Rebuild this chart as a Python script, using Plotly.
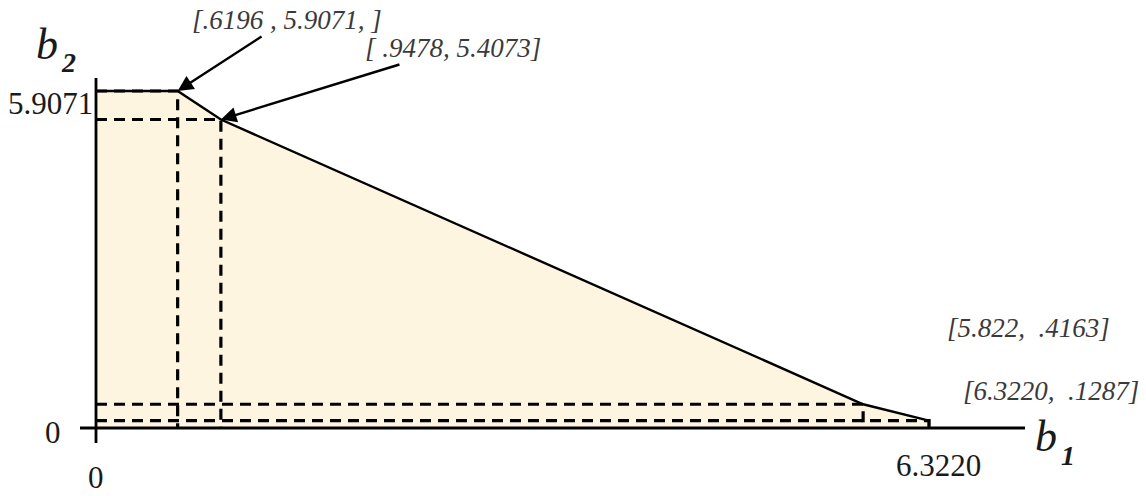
import plotly.graph_objects as go

# Trade-off points on the (b1, b2) frontier
b1_points = [0.6196, 0.9478, 5.822, 6.3220]
b2_points = [5.9071, 5.4073, 0.4163, 0.1287]
point_labels = ["[.6196 , 5.9071, ]", "[ .9478, 5.4073]", "[5.822,  .4163]", "[6.3220,  .1287]"]

# Frontier end values
b1_max = 6.3220
b2_max = 5.9071

W, H = 1146, 496
X0_PX, X1_PX = 96, 929      # pixel positions of b1 = 0 and b1 = b1_max
Y0_PX, Y1_PX = 428, 91      # pixel positions of b2 = 0 and b2 = b2_max
sx = (X1_PX - X0_PX) / b1_max
sy = (Y0_PX - Y1_PX) / b2_max
x_range = [-X0_PX / sx, (W - X0_PX) / sx]
y_range = [-(H - Y0_PX) / sy, Y0_PX / sy]

SERIF = "Liberation Serif, Times New Roman, serif"
FILL = "#FDF5E0"
LABEL_FONT = dict(family=SERIF, size=27, color="#3a3a3a", style="italic")
VALUE_FONT = dict(family=SERIF, size=31, color="#1a1a1a")
TITLE_FONT = dict(family=SERIF, size=44, color="#1a1a1a", style="italic")
SUB_FONT = dict(family=SERIF, size=28, color="#1a1a1a", style="italic", weight="bold")

fig = go.Figure()

# Feasible region bounded by the frontier
curve_x = [0] + b1_points + [b1_max]
curve_y = [b2_max] + b2_points + [0]
fig.add_trace(go.Scatter(
    x=curve_x, y=curve_y, mode="lines", fill="tozeroy", fillcolor=FILL,
    line=dict(color="black", width=2.4),
    hoverinfo="skip", showlegend=False,
))

# Dashed projections of each point onto both axes
for bx, by in zip(b1_points, b2_points):
    fig.add_trace(go.Scatter(
        x=[0, bx, bx], y=[by, by, 0], mode="lines",
        line=dict(color="black", width=3.2, dash="11px,7px"),
        hoverinfo="skip", showlegend=False,
    ))

# Axes crossing at the origin
fig.add_shape(type="line", x0=-16 / sx, x1=(1025 - X0_PX) / sx, y0=0, y1=0,
              line=dict(color="black", width=2.8))
fig.add_shape(type="line", x0=0, x1=0, y0=-15 / sy, y1=(Y0_PX - 78) / sy,
              line=dict(color="black", width=2.8))


def paper(px, py):
    return px / W, 1 - py / H


def add_text(px, py, text, font):
    ppx, ppy = paper(px, py)
    fig.add_annotation(x=ppx, y=ppy, xref="paper", yref="paper", text=text,
                       showarrow=False, xanchor="center", yanchor="middle", font=font)


# Point labels: the first two with arrows to their points
arrow_text_px = [(287, 20), (453, 48)]
for (tx, ty), bx, by, txt in zip(arrow_text_px, b1_points[:2], b2_points[:2], point_labels[:2]):
    px = X0_PX + bx * sx
    py = Y0_PX - by * sy
    fig.add_annotation(
        x=bx, y=by, xref="x", yref="y", text=txt, showarrow=True,
        ax=tx - px, ay=ty - py, axref="pixel", ayref="pixel",
        xanchor="center", yanchor="middle",
        arrowhead=2, arrowsize=1.3, arrowwidth=2.4, arrowcolor="black",
        font=LABEL_FONT, standoff=0,
    )

plain_text_px = [(1028, 328), (1051, 391)]
for (tx, ty), txt in zip(plain_text_px, point_labels[2:]):
    add_text(tx, ty, txt, LABEL_FONT)

# Axis values
fig.add_annotation(x=0, y=0, xref="x", yref="y", text="0", showarrow=False,
                   xshift=-43, yshift=-4, font=VALUE_FONT)
fig.add_annotation(x=0, y=b2_max, xref="x", yref="y", text="5.9071", showarrow=False,
                   xanchor="right", xshift=-1, yshift=-12, font=VALUE_FONT)
fig.add_annotation(x=0, y=0, xref="x", yref="y", text="0", showarrow=False,
                   yshift=-49, font=VALUE_FONT)
fig.add_annotation(x=b1_max, y=0, xref="x", yref="y", text="6.3220", showarrow=False,
                   xshift=9, yshift=-37, font=VALUE_FONT)

# Axis titles with subscripts
add_text(47, 44, "b", TITLE_FONT)
add_text(68, 63, "2", SUB_FONT)
add_text(1046, 436, "b", TITLE_FONT)
add_text(1068, 455, "1", SUB_FONT)

fig.update_xaxes(range=x_range, visible=False, fixedrange=True)
fig.update_yaxes(range=y_range, visible=False, fixedrange=True)
fig.update_layout(
    width=W, height=H, margin=dict(l=0, r=0, t=0, b=0),
    paper_bgcolor="white", plot_bgcolor="white", showlegend=False,
)

fig.write_html("out.html", config={"displayModeBar": False})
